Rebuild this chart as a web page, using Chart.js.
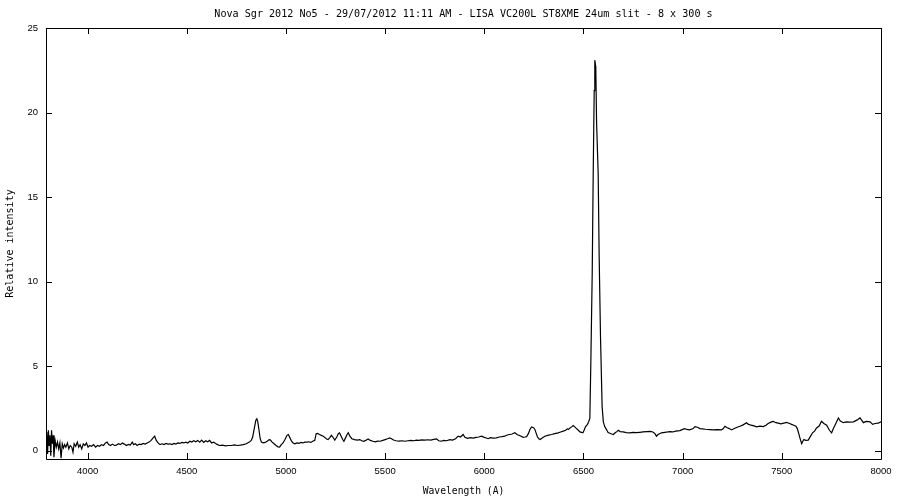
<!DOCTYPE html>
<html lang="en">
<head>
  <meta charset="UTF-8">
  <title>Nova Sgr 2012 No5 spectrum</title>
  <script src="https://cdn.jsdelivr.net/npm/chart.js"></script>
  <style>
    body { margin: 0; background: #fff; }
  </style>
</head>
<body>
  <canvas id="spectrum" width="900" height="500"></canvas>

  <script>
    // wavelength (A) and relative intensity
    const wavelength = [
      3790, 3794, 3798, 3802, 3806, 3810, 3814, 3818, 3822, 3826, 3830, 3836, 3842, 3848, 3854, 3860,
      3866, 3872, 3878, 3884, 3890, 3898, 3905, 3912, 3920, 3926, 3932, 3940, 3948, 3955, 3962, 3970,
      3978, 3986, 3994, 4002, 4010, 4020, 4030, 4040, 4050, 4060, 4070, 4080, 4090, 4098, 4106, 4115,
      4125, 4135, 4145, 4155, 4165, 4175, 4185, 4195, 4205, 4215, 4225, 4232, 4240, 4250, 4260, 4270,
      4280, 4290, 4300, 4310, 4320, 4330, 4338, 4346, 4355, 4365, 4375, 4385, 4395, 4405, 4415, 4425,
      4435, 4445, 4455, 4465, 4475, 4485, 4495, 4505, 4515, 4525, 4535, 4545, 4555, 4565, 4575, 4585,
      4595, 4605, 4615, 4625, 4635, 4645, 4655, 4665, 4680, 4695, 4710, 4725, 4740, 4755, 4770, 4785,
      4800, 4815, 4825, 4832, 4840, 4848, 4853, 4858, 4864, 4870, 4876, 4885, 4895, 4905, 4915, 4922,
      4930, 4940, 4950, 4960, 4968, 4976, 4985, 4995, 5005, 5012, 5020, 5028, 5036, 5045, 5055, 5065,
      5075, 5085, 5095, 5105, 5115, 5125, 5135, 5145, 5152, 5160, 5168, 5178, 5188, 5195, 5205, 5212,
      5220, 5229, 5236, 5246, 5256, 5264, 5270, 5278, 5286, 5292, 5300, 5308, 5314, 5322, 5332, 5345,
      5360, 5372, 5382, 5392, 5402, 5414, 5425, 5438, 5450, 5462, 5475, 5488, 5500, 5512, 5523, 5532,
      5542, 5555, 5570, 5585, 5600, 5615, 5630, 5645, 5658, 5670, 5685, 5700, 5715, 5730, 5745, 5759,
      5770, 5782, 5795, 5810, 5826, 5840, 5855, 5868, 5880, 5893, 5902, 5915, 5930, 5944, 5958, 5972,
      5986, 6000, 6010, 6019, 6030, 6045, 6061, 6075, 6090, 6103, 6115, 6128, 6140, 6154, 6165, 6180,
      6196, 6205, 6213, 6222, 6230, 6238, 6248, 6255, 6262, 6268, 6275, 6282, 6292, 6305, 6320, 6339,
      6355, 6372, 6385, 6398, 6410, 6418, 6425, 6432, 6440, 6448, 6456, 6465, 6474, 6482, 6490, 6497,
      6503, 6510, 6520, 6526, 6532, 6537, 6544, 6549, 6554, 6557, 6562, 6566, 6574, 6579, 6586, 6594,
      6600, 6607, 6616, 6624, 6633, 6642, 6650, 6660, 6668, 6675, 6685, 6700, 6715, 6734, 6750, 6765,
      6784, 6800, 6820, 6835, 6850, 6860, 6868, 6876, 6893, 6910, 6925, 6936, 6950, 6965, 6986, 7000,
      7011, 7020, 7035, 7053, 7062, 7075, 7087, 7100, 7115, 7137, 7155, 7175, 7196, 7205, 7213, 7225,
      7235, 7247, 7260, 7275, 7289, 7305, 7322, 7332, 7345, 7360, 7373, 7390, 7406, 7420, 7431, 7445,
      7457, 7470, 7482, 7495, 7510, 7524, 7540, 7549, 7560, 7571, 7578, 7583, 7591, 7600, 7606, 7611,
      7620, 7633, 7645, 7655, 7665, 7675, 7688, 7700, 7712, 7726, 7740, 7751, 7760, 7768, 7778, 7785,
      7795, 7810, 7825, 7840, 7861, 7878, 7894, 7905, 7911, 7925, 7945, 7958, 7970, 7986, 8000
    ];
    const intensity = [
      0.3, 1.1, -0.2, 1.2, 0.3, 0.9, -0.3, 1.2, 0.4, 0.9, -0.4, 0.6, 0.2, 0.5, 0.1, 0.45,
      -0.45, 0.4, 0.15, 0.35, 0.2, 0.45, 0.1, 0.3, 0.2, -0.1, 0.4, 0.25, 0.5, 0.2, 0.35, 0.1,
      0.4, 0.3, 0.45, 0.2, 0.3, 0.25, 0.35, 0.2, 0.3, 0.25, 0.35, 0.3, 0.45, 0.5, 0.35, 0.3,
      0.38, 0.3, 0.32, 0.4, 0.35, 0.45, 0.38, 0.3, 0.36, 0.32, 0.5, 0.35, 0.4, 0.3, 0.38, 0.35,
      0.42, 0.38, 0.45, 0.5, 0.6, 0.75, 0.85, 0.6, 0.45, 0.35, 0.4, 0.35, 0.42, 0.38, 0.4, 0.35,
      0.42, 0.38, 0.45, 0.42, 0.48, 0.45, 0.5, 0.45, 0.55, 0.5, 0.58, 0.52, 0.6, 0.5, 0.62, 0.48,
      0.58, 0.52, 0.6, 0.45, 0.5, 0.42, 0.35, 0.3, 0.32, 0.28, 0.3, 0.3, 0.33, 0.3, 0.32, 0.35,
      0.4, 0.5, 0.6, 0.8, 1.3, 1.8, 1.88, 1.7, 1.2, 0.7, 0.5, 0.45, 0.48, 0.55, 0.65, 0.62,
      0.5, 0.4, 0.3, 0.22, 0.2, 0.35, 0.45, 0.65, 0.9, 0.95, 0.75, 0.55, 0.45, 0.4, 0.45, 0.42,
      0.48, 0.45, 0.5, 0.5, 0.52, 0.48, 0.55, 0.6, 1.0, 1.02, 0.95, 0.9, 0.85, 0.78, 0.68, 0.65,
      0.75, 0.9, 0.8, 0.62, 0.8, 1.0, 1.05, 0.85, 0.65, 0.55, 0.75, 0.95, 1.05, 0.85, 0.7, 0.65,
      0.62, 0.65, 0.58, 0.55, 0.6, 0.68, 0.6, 0.55, 0.52, 0.56, 0.55, 0.6, 0.65, 0.7, 0.75, 0.7,
      0.62, 0.58, 0.56, 0.58, 0.55, 0.58, 0.6, 0.58, 0.62, 0.6, 0.63, 0.62, 0.64, 0.62, 0.66, 0.69,
      0.58, 0.55, 0.6, 0.58, 0.65, 0.62, 0.7, 0.85, 0.8, 0.95, 0.78, 0.72, 0.76, 0.74, 0.78, 0.8,
      0.85, 0.78, 0.74, 0.7, 0.76, 0.74, 0.75, 0.8, 0.82, 0.85, 0.92, 0.95, 0.98, 1.05, 0.95, 0.88,
      0.78, 0.8, 0.82, 1.0, 1.25, 1.4, 1.35, 1.25, 1.0, 0.8, 0.7, 0.65, 0.75, 0.85, 0.9, 0.95,
      1.0, 1.05, 1.1, 1.15, 1.2, 1.28, 1.25, 1.34, 1.4, 1.48, 1.4, 1.3, 1.2, 1.1, 1.08, 1.05,
      1.2, 1.4, 1.55, 1.7, 1.9, 5.2, 10.5, 16.4, 21.3, 23.1, 22.7, 19.4, 16.4, 11.5, 6.6, 2.6,
      1.7, 1.42, 1.24, 1.06, 1.02, 0.98, 0.95, 1.05, 1.12, 1.2, 1.12, 1.1, 1.06, 1.05, 1.08, 1.06,
      1.08, 1.1, 1.12, 1.13, 1.1, 1.0, 0.85, 0.95, 1.05, 1.08, 1.1, 1.12, 1.1, 1.15, 1.18, 1.25,
      1.3, 1.25, 1.22, 1.3, 1.42, 1.38, 1.3, 1.28, 1.26, 1.24, 1.22, 1.24, 1.22, 1.3, 1.44, 1.35,
      1.3, 1.22, 1.3, 1.38, 1.44, 1.52, 1.64, 1.55, 1.5, 1.46, 1.4, 1.44, 1.42, 1.5, 1.6, 1.68,
      1.73, 1.65, 1.62, 1.58, 1.62, 1.66, 1.6, 1.55, 1.5, 1.44, 1.3, 1.1, 0.75, 0.41, 0.55, 0.65,
      0.6, 0.62, 0.85, 1.05, 1.15, 1.34, 1.45, 1.73, 1.6, 1.5, 1.2, 1.05, 1.3, 1.5, 1.75, 1.93,
      1.75, 1.65, 1.7, 1.68, 1.7, 1.8, 1.93, 1.75, 1.65, 1.72, 1.7, 1.55, 1.6, 1.62, 1.7
    ];
    const xTicks = [4000, 4500, 5000, 5500, 6000, 6500, 7000, 7500, 8000];
    const yTicks = [0, 5, 10, 15, 20, 25];

    const points = wavelength.map((w, i) => ({ x: w, y: intensity[i] }));

    // gnuplot style frame: full border with inward ticks on all sides
    const frame = {
      id: 'frame',
      afterDraw(chart) {
        const c = chart.ctx;
        const a = chart.chartArea;
        const sx = chart.scales.x, sy = chart.scales.y;
        const len = 6;
        c.save();
        c.strokeStyle = '#000';
        c.lineWidth = 1;
        c.beginPath();
        c.rect(Math.round(a.left) + 0.5, Math.round(a.top) + 0.5,
               Math.round(a.right - a.left), Math.round(a.bottom - a.top));
        xTicks.forEach(v => {
          const px = Math.round(sx.getPixelForValue(v)) + 0.5;
          c.moveTo(px, a.bottom); c.lineTo(px, a.bottom - len);
          c.moveTo(px, a.top); c.lineTo(px, a.top + len);
        });
        yTicks.forEach(v => {
          const py = Math.round(sy.getPixelForValue(v)) + 0.5;
          c.moveTo(a.left, py); c.lineTo(a.left + len, py);
          c.moveTo(a.right, py); c.lineTo(a.right - len, py);
        });
        c.stroke();
        c.restore();
      }
    };

    const tickFont = { family: "'Liberation Sans Narrow', 'Liberation Sans', sans-serif", size: 9.5 };
    const monoFont = { family: 'DejaVu Sans Mono', size: 10 };

    const ctx = document.getElementById('spectrum').getContext('2d');
    const chart = new Chart(ctx, {
      type: 'line',
      data: {
        datasets: [{
          data: points,
          borderColor: '#000',
          borderWidth: 1.2,
          pointRadius: 0,
          tension: 0,
          fill: false
        }]
      },
      options: {
        responsive: false,
        animation: false,
        layout: { padding: { right: 19 } },
        plugins: {
          legend: { display: false },
          tooltip: { enabled: false },
          title: {
            display: true,
            fullSize: false,
            text: 'Nova Sgr 2012 No5 - 29/07/2012 11:11 AM - LISA VC200L ST8XME 24um slit - 8 x 300 s',
            color: '#000',
            font: { family: 'DejaVu Sans Mono', size: 10.1, weight: 'normal' },
            padding: { top: 8, bottom: 7.9 }
          }
        },
        scales: {
          x: {
            type: 'linear',
            min: 3790,
            max: 8000,
            afterBuildTicks: s => { s.ticks = xTicks.map(v => ({ value: v })); },
            afterFit: s => { s.height = 41; s.paddingLeft = 0; s.paddingRight = 0; },
            grid: { display: false, drawTicks: false },
            border: { display: false },
            ticks: { color: '#000', font: tickFont, padding: 7, maxRotation: 0, autoSkip: false,
                     callback: v => String(v) },
            title: {
              display: true,
              text: 'Wavelength (A)',
              color: '#000',
              font: { family: 'DejaVu Sans Mono', size: 9.7 },
              padding: { top: 0, bottom: 3 }
            }
          },
          y: {
            min: -0.5,
            max: 25,
            afterBuildTicks: s => { s.ticks = yTicks.map(v => ({ value: v })); },
            afterFit: s => { s.width = 46; s.paddingTop = 0; s.paddingBottom = 0; },
            grid: { display: false, drawTicks: false },
            border: { display: false },
            ticks: { color: '#000', font: tickFont, padding: 8, callback: v => String(v) },
            title: {
              display: true,
              text: 'Relative intensity',
              color: '#000',
              font: monoFont,
              padding: { top: 4, bottom: 0 }
            }
          }
        }
      },
      plugins: [frame]
    });
  </script>
</body>
</html>
